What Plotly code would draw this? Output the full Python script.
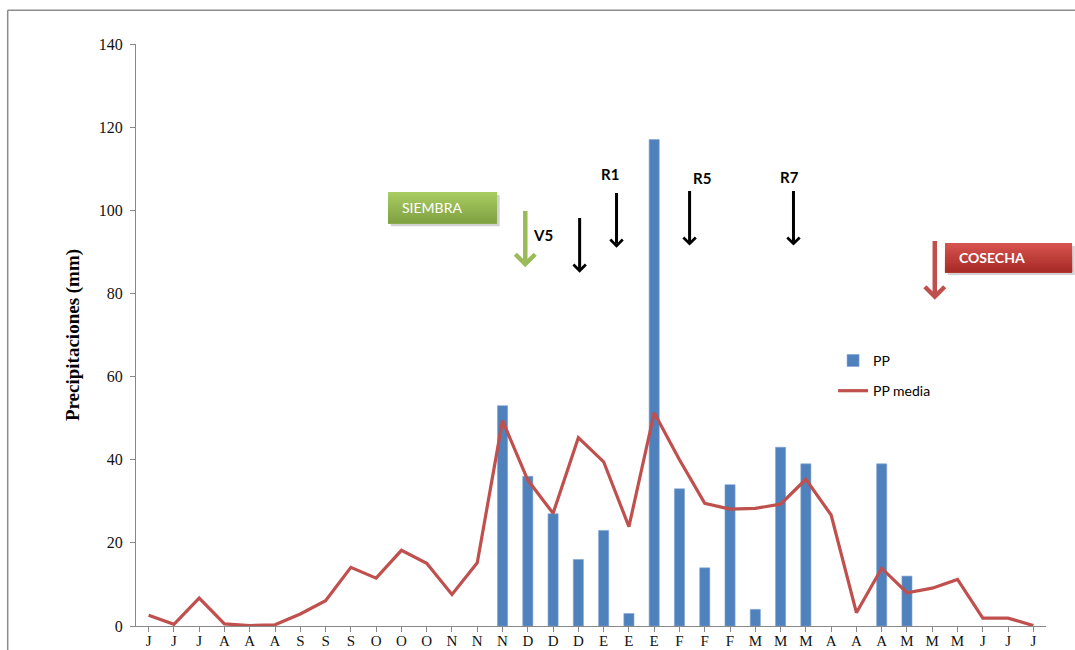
import plotly.graph_objects as go

# Month initials (three readings per month, June to June)
months = ["J", "J", "J", "A", "A", "A", "S", "S", "S", "O", "O", "O",
          "N", "N", "N", "D", "D", "D", "E", "E", "E", "F", "F", "F",
          "M", "M", "M", "A", "A", "A", "M", "M", "M", "J", "J", "J"]

# Observed precipitation (mm) per period
pp = [None] * 14 + [53, 36, 27, 16, 23, 3, 117, 33, 14, 34, 4, 43, 39,
                    None, None, 39, 12] + [None] * 5

# Historical mean precipitation (mm) per period
pp_media = [2.6, 0.4, 6.7, 0.5, 0.1, 0.3, 2.9, 6.1, 14.1, 11.5, 18.2, 15.1,
            7.6, 15.2, 49.4, 35.1, 27.1, 45.3, 39.5, 23.9, 51.3, 40.0, 29.5, 28.1,
            28.3, 29.3, 35.3, 26.7, 3.2, 13.9, 8.0, 9.1, 11.2, 1.9, 1.9, 0.1]

# Crop stage markers: (label, arrow index, tail mm, head mm, label index, label mm)
stages = [("V5", 17.05, 98.5, 85.0, 15.6, 94.0),
          ("R1", 18.51, 104.5, 91.0, 18.25, 108.7),
          ("R5", 21.4, 105.0, 91.5, 21.9, 107.7),
          ("R7", 25.51, 105.0, 91.5, 25.35, 107.9)]

x = list(range(len(months)))
SANS = "Lato, Liberation Sans, sans-serif"
SERIF = "Liberation Serif, Times New Roman, serif"

fig = go.Figure()
fig.add_trace(go.Bar(
    x=x, y=pp, name="PP", width=0.4, legendgroup="pp",
    marker=dict(color="#4f81bd", line=dict(color="#7fa3d4", width=0.6)),
))
fig.add_trace(go.Scatter(
    x=x, y=pp_media, name="PP media", mode="lines", legendgroup="media",
    line=dict(color="#c0504d", width=3.2),
))

annotations = []
shapes = []

# Black stage arrows with bold labels
for label, xi, y_tail, y_head, xl, yl in stages:
    annotations.append(dict(
        x=xi, y=y_head, xref="x", yref="y", ax=xi, ay=y_tail,
        axref="x", ayref="y", text="", showarrow=True,
        arrowhead=4, arrowsize=0.8, arrowwidth=3, arrowcolor="#000000",
    ))
    annotations.append(dict(
        x=xl, y=yl, xref="x", yref="y", text=f"<b>{label}</b>", showarrow=False,
        font=dict(family=SANS, size=15, color="#000"),
    ))

# Sowing arrow (green) and harvest arrow (red)
annotations.append(dict(
    x=14.9, y=86.3, xref="x", yref="y", ax=14.9, ay=100.2,
    axref="x", ayref="y", text="", showarrow=True,
    arrowhead=4, arrowsize=0.85, arrowwidth=4.5, arrowcolor="#9bbb59",
))
annotations.append(dict(
    x=31.1, y=78.5, xref="x", yref="y", ax=31.1, ay=93.0,
    axref="x", ayref="y", text="", showarrow=True,
    arrowhead=4, arrowsize=0.85, arrowwidth=4.5, arrowcolor="#c0504d",
))


def label_box(x0, x1, y0, y1, top, bottom, text, bold):
    """Gradient text box in paper coordinates with a soft shadow."""
    shapes.append(dict(type="rect", xref="paper", yref="paper",
                       x0=x0 + 0.003, x1=x1 + 0.003, y0=y0 - 0.005, y1=y1 - 0.005,
                       fillcolor="rgba(0,0,0,0.18)", line=dict(width=0), layer="above"))
    # each band runs from its top edge down to the box bottom, so no seams show
    n = 12
    for k in range(n):
        t = k / (n - 1)
        c = [round(top[i] + (bottom[i] - top[i]) * t) for i in range(3)]
        ya = y1 - (y1 - y0) * k / n
        shapes.append(dict(type="rect", xref="paper", yref="paper",
                           x0=x0, x1=x1, y0=y0, y1=ya,
                           fillcolor=f"rgb({c[0]},{c[1]},{c[2]})",
                           line=dict(width=0), layer="above"))
    txt = f"<b>{text}</b>" if bold else text
    annotations.append(dict(x=x0 + 0.013, y=(y0 + y1) / 2, xref="paper", yref="paper",
                            text=txt, showarrow=False, xanchor="left", yanchor="middle",
                            font=dict(family=SANS, size=14, color="#ffffff")))


label_box(0.277, 0.3967, 0.692, 0.7457, (168, 203, 98), (128, 162, 66), "SIEMBRA", False)
label_box(0.889, 1.0286, 0.608, 0.658, (214, 82, 78), (168, 44, 40), "COSECHA", True)

# Outer frame line (top and left edges)
shapes.append(dict(type="line", xref="paper", yref="paper",
                   x0=-0.141, x1=1.04, y0=1.058, y1=1.058,
                   line=dict(color="#8c8c8c", width=1.5)))
shapes.append(dict(type="line", xref="paper", yref="paper",
                   x0=-0.141, x1=-0.141, y0=1.058, y1=-0.06,
                   line=dict(color="#8c8c8c", width=1.5)))

fig.update_layout(
    width=1075, height=650,
    margin=dict(l=136, r=29, t=44, b=24),
    paper_bgcolor="#ffffff", plot_bgcolor="#ffffff",
    showlegend=True,
    legend=dict(x=0.766, y=0.483, xanchor="left", yanchor="top",
                bgcolor="rgba(0,0,0,0)", traceorder="grouped", tracegroupgap=9,
                font=dict(family=SANS, size=14, color="#000"),
                itemwidth=30),
    bargap=0.6,
    xaxis=dict(
        tickmode="array", tickvals=x, ticktext=months,
        range=[-0.5, 35.5], showgrid=False, zeroline=False,
        showline=True, linecolor="#888888", linewidth=1,
        ticks="outside", ticklen=5, tickcolor="#888888", tickson="boundaries",
        ticklabelstandoff=-4,
        tickfont=dict(family=SERIF, size=15, color="#111"),
        automargin=False,
    ),
    yaxis=dict(
        range=[0, 140], tickvals=[0, 20, 40, 60, 80, 100, 120, 140],
        showgrid=False, zeroline=False,
        showline=True, linecolor="#888888", linewidth=1,
        ticks="outside", ticklen=5, tickcolor="#888888", ticklabelstandoff=4,
        tickfont=dict(family=SERIF, size=16, color="#111"),
        title=dict(text="<b>Precipitaciones (mm)</b>", standoff=14,
                   font=dict(family=SERIF, size=19, color="#000")),
        automargin=False,
    ),
    annotations=annotations,
    shapes=shapes,
)

fig.write_html("out.html")
